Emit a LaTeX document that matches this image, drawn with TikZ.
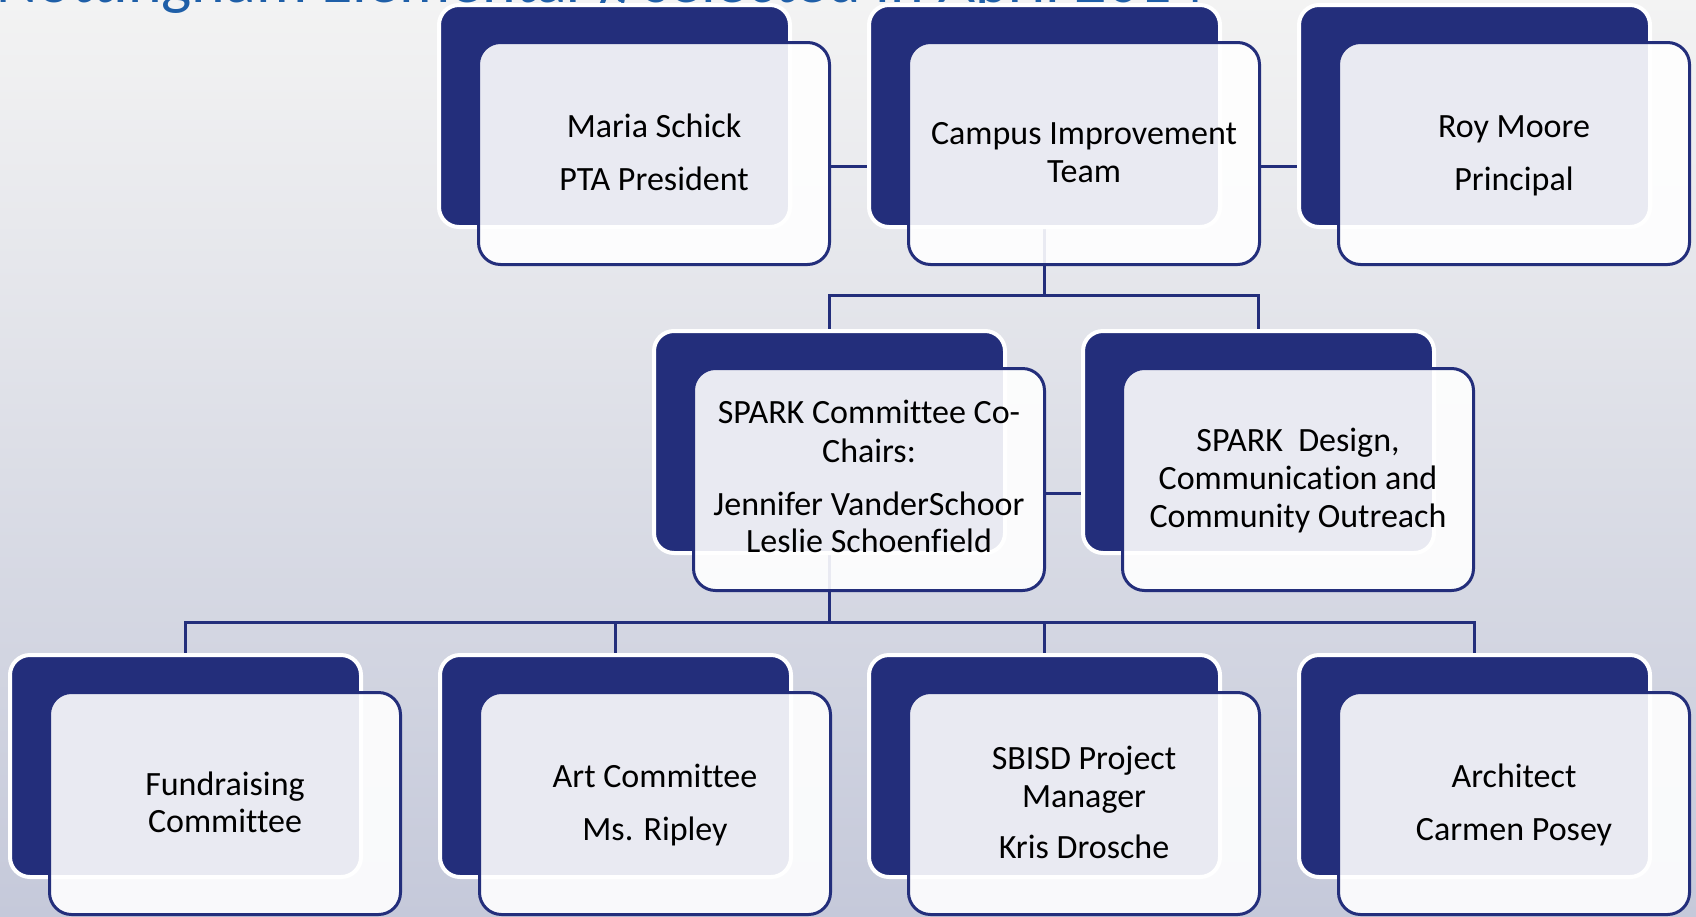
\documentclass[tikz,border=0pt]{standalone}
\usepackage{fontspec}
\setmainfont[Ligatures=NoCommon]{Carlito}
\definecolor{navy}{RGB}{35,46,123}
\definecolor{titleblue}{RGB}{31,95,168}
\definecolor{bgtop}{RGB}{243,243,243}
\definecolor{bgmid}{RGB}{236,237,241}
\definecolor{bgbot}{RGB}{197,201,218}
\pgfdeclarelayer{back}
\pgfdeclarelayer{lines}
\pgfsetlayers{back,lines,main}
\begin{document}
\begin{tikzpicture}[x=0.5pt,y=-0.5pt,
  darkbox/.style={rectangle, rounded corners=10pt, fill=navy, draw=white, line width=2pt,
    minimum width=175.5pt, minimum height=111pt, inner sep=0pt, outer sep=0pt, anchor=north west},
  frontbox/.style={rectangle, rounded corners=11pt, fill=white, fill opacity=0.9, draw=navy,
    draw opacity=1, line width=1.5pt, minimum width=175.5pt, minimum height=111pt,
    inner sep=0pt, outer sep=0pt, anchor=north west},
  conn/.style={draw=navy, line width=1.5pt},
  lbl/.style={anchor=base, inner sep=0pt, font=\fontsize{17}{20}\selectfont, text=black},
  titletext/.style={anchor=base west, inner sep=0pt, text=titleblue, font=\fontsize{32}{38}\selectfont}]
\useasboundingbox (0,0) rectangle (1696,916);
\begin{pgfonlayer}{back}
  \shade[top color=bgtop, middle color=bgmid, bottom color=bgbot] (0,0) rectangle (1696,916);
  \node[titletext] (title) at (-4,2) {Nottingham Elementary, selected in April 2014};
\end{pgfonlayer}

% Row 1
\node[darkbox] (mariaD) at (439,5) {};
\node[frontbox] (mariaF) at (478.5,42.5) {};
\node[darkbox] (campusD) at (869,5) {};
\node[frontbox] (campusF) at (908.5,42.5) {};
\node[darkbox] (royD) at (1299,5) {};
\node[frontbox] (royF) at (1338.5,42.5) {};
% Row 2
\node[darkbox] (coD) at (654,331) {};
\node[frontbox] (coF) at (693.5,368.5) {};
\node[darkbox] (designD) at (1083,331) {};
\node[frontbox] (designF) at (1122.5,368.5) {};
% Row 3
\node[darkbox] (fundD) at (10,655) {};
\node[frontbox] (fundF) at (49.5,692.5) {};
\node[darkbox] (artD) at (440,655) {};
\node[frontbox] (artF) at (479.5,692.5) {};
\node[darkbox] (sbisdD) at (869,655) {};
\node[frontbox] (sbisdF) at (908.5,692.5) {};
\node[darkbox] (archD) at (1299,655) {};
\node[frontbox] (archF) at (1338.5,692.5) {};

% Connectors (behind boxes)
\begin{pgfonlayer}{lines}
  \coordinate (busA) at (campusD.center |- 0,295);
  \coordinate (busB) at (coD.center |- 0,622);
  \draw[conn] ([yshift=-6.25pt]mariaF.east) coordinate (h1) -- (h1 -| campusD.west);
  \draw[conn] ([yshift=-6.25pt]campusF.east) coordinate (h2) -- (h2 -| royD.west);
  \draw[conn] (campusD.center) -- (busA);
  \draw[conn] (coD.north) |- (busA);
  \draw[conn] (designD.north) |- (busA);
  \draw[conn] ([yshift=-6.75pt]coF.east) coordinate (h3) -- (h3 -| designD.west);
  \draw[conn] (coD.center) -- (busB);
  \draw[conn] (fundD.north) |- (busB);
  \draw[conn] (artD.north) |- (busB);
  \draw[conn] (sbisdD.north) |- (busB);
  \draw[conn] (archD.north) |- (busB);
\end{pgfonlayer}

% Texts
\node[lbl] (maria1) at (mariaF.north |- 0,137) {Maria Schick};
\node[lbl] (maria2) at (mariaF.north |- 0,190) {PTA President};
\node[lbl] (campus1) at (campusF.north |- 0,144) {Campus Improvement};
\node[lbl] (campus2) at (campusF.north |- 0,182) {Team};
\node[lbl] (roy1) at (royF.north |- 0,137) {Roy Moore};
\node[lbl] (roy2) at (royF.north |- 0,190) {Principal};

\node[lbl] (co1) at (coF.north |- 0,423) {SPARK Committee Co-};
\node[lbl] (co2) at (coF.north |- 0,462) {Chairs:};
\node[lbl] (co3) at (coF.north |- 0,515) {Jennifer VanderSchoor};
\node[lbl] (co4) at (coF.north |- 0,552) {Leslie Schoenfield};
\node[lbl] (design1) at (designF.north |- 0,451) {SPARK\ \ Design,};
\node[lbl] (design2) at (designF.north |- 0,489) {Communication and};
\node[lbl] (design3) at (designF.north |- 0,527) {Community Outreach};

\node[lbl] (fund1) at (fundF.north |- 0,795) {Fundraising};
\node[lbl] (fund2) at (fundF.north |- 0,832) {Committee};
\node[lbl] (art1) at (artF.north |- 0,787) {Art Committee};
\node[lbl] (art2) at (artF.north |- 0,840) {Ms. Ripley};
\node[lbl] (sbisd1) at (sbisdF.north |- 0,769) {SBISD Project};
\node[lbl] (sbisd2) at (sbisdF.north |- 0,807) {Manager};
\node[lbl] (sbisd3) at (sbisdF.north |- 0,858) {Kris Drosche};
\node[lbl] (arch1) at (archF.north |- 0,787) {Architect};
\node[lbl] (arch2) at (archF.north |- 0,840) {Carmen Posey};
\end{tikzpicture}
\end{document}
